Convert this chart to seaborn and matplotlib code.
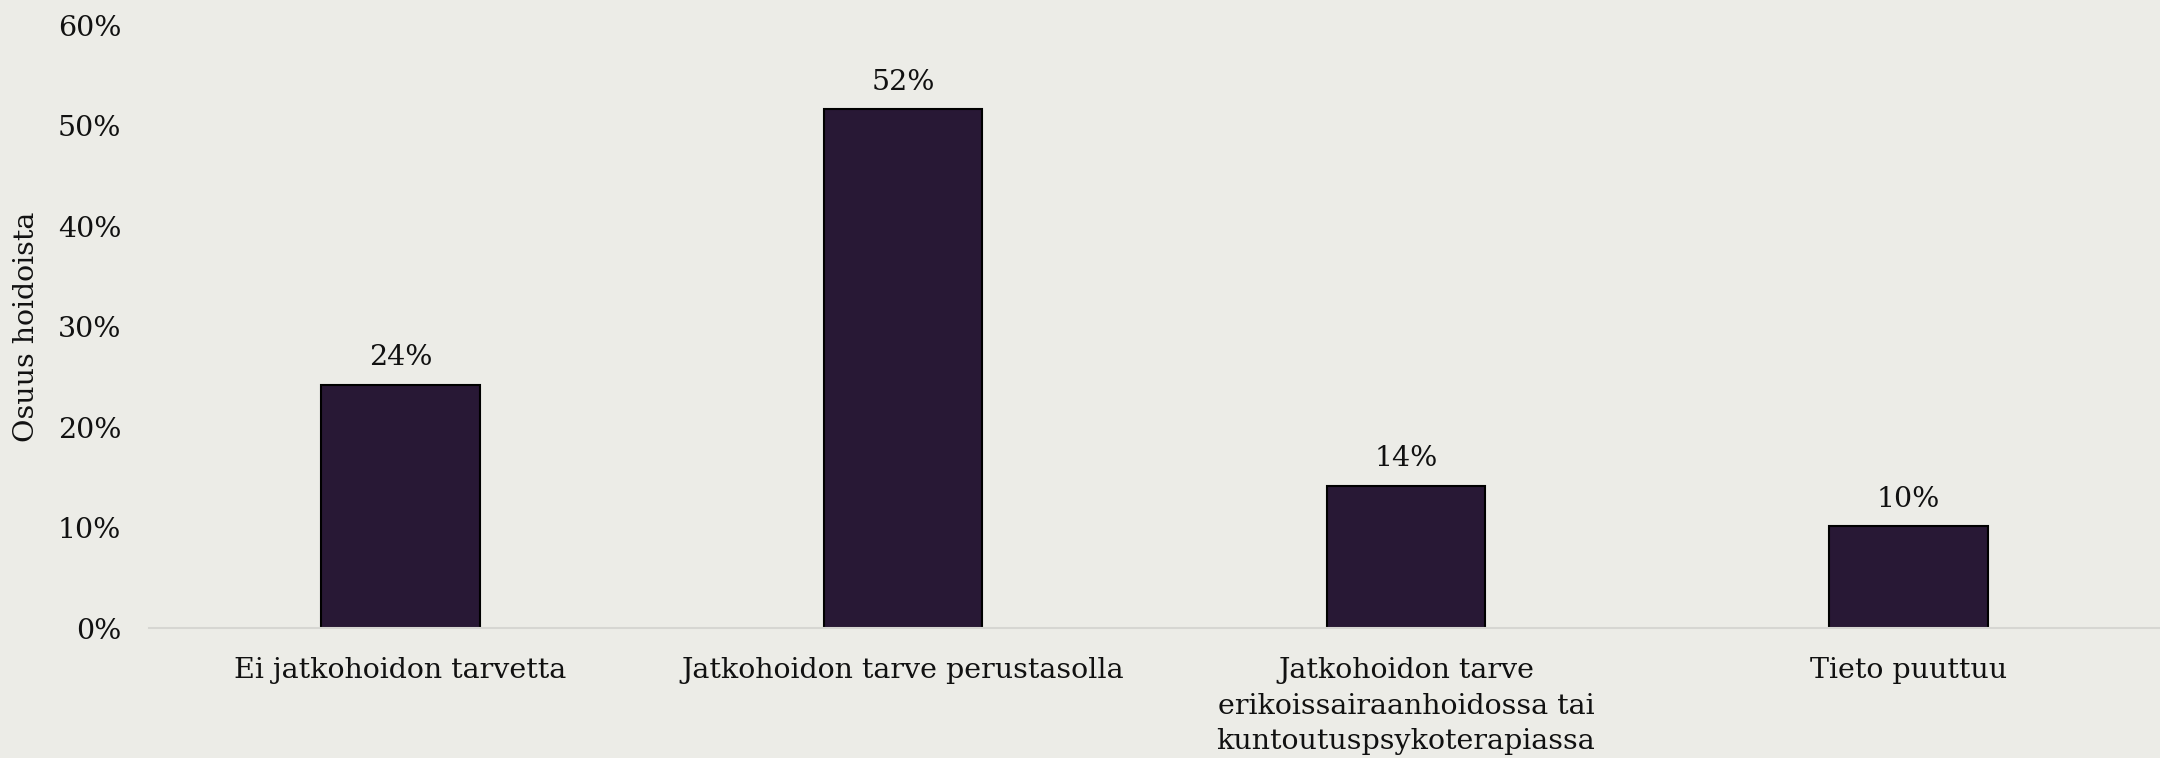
import matplotlib
matplotlib.use("Agg")
import matplotlib.pyplot as plt
import seaborn as sns
import pandas as pd
from matplotlib.ticker import FuncFormatter

categories = [
    "Ei jatkohoidon tarvetta",
    "Jatkohoidon tarve perustasolla",
    "Jatkohoidon tarve\nerikoissairaanhoidossa tai\nkuntoutuspsykoterapiassa",
    "Tieto puuttuu",
]
values = [24.2, 51.6, 14.1, 10.1]
yticks = [0, 10, 20, 30, 40, 50, 60]
ylabel = "Osuus hoidoista"

bg = "#ECECE7"
bar_color = "#281835"

sns.set_theme(style="white")
plt.rcParams["font.family"] = ["DejaVu Serif"]

df = pd.DataFrame({"cat": categories, "val": values})

fig = plt.figure(figsize=(21.6, 7.58), dpi=100, facecolor=bg)
ax = fig.add_axes([0.069, 0.1715, 0.931, 0.7955])
ax.set_facecolor(bg)

sns.barplot(data=df, x="cat", y="val", color=bar_color, width=0.315,
            edgecolor="black", linewidth=1.5, saturation=1, ax=ax)

ax.set_xlim(-0.5, 3.5)
ax.set_ylim(0, 60)
ax.set_yticks(yticks)
ax.yaxis.set_major_formatter(FuncFormatter(lambda v, p: f"{v:.0f}%"))
ax.tick_params(axis="y", length=0, pad=20, labelsize=20.5, colors="#111111")
ax.tick_params(axis="x", length=0, pad=21, labelsize=20.5, colors="#111111")
for lbl in ax.get_xticklabels():
    lbl.set_linespacing(1.4)

ax.set_xlabel("")
ax.set_ylabel(ylabel, fontsize=20.5, color="#111111", labelpad=13)

for s in ["top", "right", "left"]:
    ax.spines[s].set_visible(False)
ax.spines["bottom"].set_color("#D6D6D2")
ax.spines["bottom"].set_linewidth(1.5)

for cont in ax.containers:
    ax.bar_label(cont, labels=[f"{v:.0f}%" for v in values], padding=10,
                 fontsize=20.5, color="#111111")

fig.savefig("out.png", dpi=100, facecolor=bg)
